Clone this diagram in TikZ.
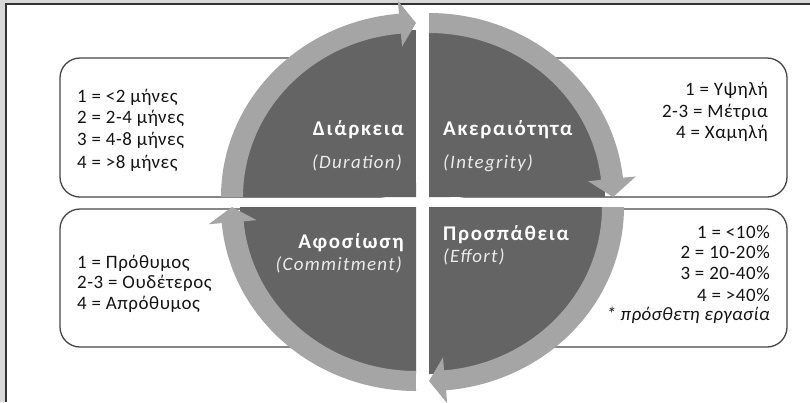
\documentclass[tikz,border=0pt]{standalone}
\usepackage{fontspec}
\setmainfont{Carlito}
\definecolor{framegray}{RGB}{216,216,216}
\definecolor{frameline}{RGB}{50,50,50}
\definecolor{darkq}{RGB}{100,100,100}
\definecolor{arrowc}{RGB}{165,165,165}
\definecolor{boxline}{RGB}{70,70,70}
\definecolor{txt}{RGB}{20,20,20}
\def\rxi{173}\def\ryi{164}
\def\rxo{195}\def\ryo{184}
\def\rxm{184}\def\rym{174}
\def\hw{13}
% #1 cx, #2 cy, #3 start angle, #4 head-back angle, #5 tip angle
\newcommand\qarrow[5]{%
  \fill[arrowc] plot[domain=0:1,samples=40,smooth] ({#1+\rxo*cos(#3+(#4-#3)*\x)},{#2-\ryo*sin(#3+(#4-#3)*\x)})
    -- ({#1+(\rxo+\hw)*cos(#4)},{#2-(\ryo+\hw)*sin(#4)})
    -- ({#1+\rxm*cos(#5)},{#2-\rym*sin(#5)})
    -- ({#1+(\rxi-\hw)*cos(#4)},{#2-(\ryi-\hw)*sin(#4)})
    -- plot[domain=0:1,samples=40,smooth] ({#1+\rxi*cos(#4+(#3-#4)*\x)},{#2-\ryi*sin(#4+(#3-#4)*\x)})
    -- cycle;}
% #1 cx, #2 cy, #3 a0, #4 a1
\newcommand\qpie[4]{%
  \fill[darkq] (#1,#2) -- plot[domain=0:1,samples=40,smooth] ({#1+(\rxi+3)*cos(#3+(#4-#3)*\x)},{#2-(\ryi+3)*sin(#3+(#4-#3)*\x)}) -- cycle;}
\tikzset{
  listtxt/.style={font=\fontsize{19}{22}\selectfont\addfontfeature{LetterSpace=3}, text=txt, inner sep=0pt},
  listit/.style={font=\fontsize{19}{22}\selectfont\itshape\addfontfeature{LetterSpace=2}, text=txt, inner sep=0pt},
  titletxt/.style={font=\fontsize{21}{24}\selectfont\bfseries\addfontfeature{LetterSpace=8}, text=white, inner sep=0pt},
  subtxt/.style={font=\fontsize{19}{22}\selectfont\itshape\addfontfeature{LetterSpace=7}, text=white!92!black, inner sep=0pt},
  infobox/.style={draw=boxline, line width=1.3pt, fill=white, rounded corners=20bp},
}
\begin{document}
\begin{tikzpicture}[x=1bp,y=-1bp]
\useasboundingbox (0,0) rectangle (810,402);
% frame
\fill[framegray] (0,0) rectangle (810,402);
\fill[white] (6,4) rectangle (810,402);
\draw[frameline, line width=1.2bp] (6,402) -- (6,4) -- (810,4);
% boxes
\draw[infobox] (60,58) rectangle (400,197);
\draw[infobox] (445,58) rectangle (787,197);
\draw[infobox] (60,209) rectangle (400,347);
\draw[infobox] (445,209) rectangle (787,347);
% quadrants
\qpie{416}{197}{180}{90}
\qpie{429}{197}{90}{0}
\qpie{429}{207}{0}{-90}
\qpie{416}{207}{270}{180}
% arrows
\qarrow{416}{197}{180}{95}{90}
\qarrow{429}{197}{90}{6}{0}
\qarrow{429}{207}{0}{-85}{-90}
\qarrow{416}{207}{270}{185}{180}
% quadrant labels
\node[titletxt, anchor=east] (dur) at (404,130) {Διάρκεια};
\node[subtxt, anchor=east] (durE) at (402,163) {(Duration)};
\node[titletxt, anchor=west] (int) at (443,130) {Ακεραιότητα};
\node[subtxt, anchor=west] (intE) at (443,163) {(Integrity)};
\node[titletxt, anchor=east] (com) at (404,243) {Αφοσίωση};
\node[subtxt, anchor=east] (comE) at (402,265) {(Commitment)};
\node[titletxt, anchor=west] (eff) at (443,235) {Προσπάθεια};
\node[subtxt, anchor=west] (effE) at (443,257) {(Effort)};
% lists
\node[listtxt, anchor=west] (tl1) at (77,97) {1 = <2 μήνες};
\node[listtxt, anchor=west] (tl2) at (77,118) {2 = 2-4 μήνες};
\node[listtxt, anchor=west] (tl3) at (77,140) {3 = 4-8 μήνες};
\node[listtxt, anchor=west] (tl4) at (77,163) {4 = >8 μήνες};
\node[listtxt, anchor=east] (tr1) at (768,90) {1 = Υψηλή};
\node[listtxt, anchor=east] (tr2) at (768,112) {2-3 = Μέτρια};
\node[listtxt, anchor=east] (tr3) at (768,133) {4 = Χαμηλή};
\node[listtxt, anchor=west] (bl1) at (77,263) {1 = Πρόθυμος};
\node[listtxt, anchor=west] (bl2) at (77,283) {2-3 = Ουδέτερος};
\node[listtxt, anchor=west] (bl3) at (77,304) {4 = Απρόθυμος};
\node[listtxt, anchor=east] (br1) at (770,232) {1 = <10\%};
\node[listtxt, anchor=east] (br2) at (770,252) {2 = 10-20\%};
\node[listtxt, anchor=east] (br3) at (770,273) {3 = 20-40\%};
\node[listtxt, anchor=east] (br4) at (770,295) {4 = >40\%};
\node[listit, anchor=east] (br5) at (770,315) {* πρόσθετη εργασία};
\end{tikzpicture}
\end{document}
